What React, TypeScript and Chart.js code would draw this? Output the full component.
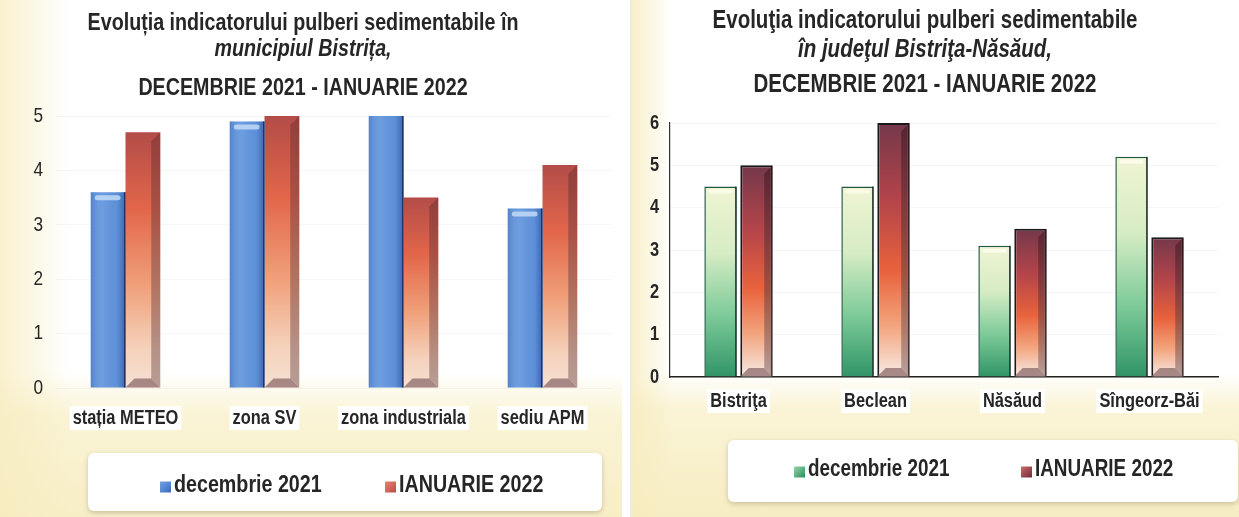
import React, { useEffect, useRef } from 'react';
import { Chart, registerables } from 'chart.js';

Chart.register(...registerables);

// ---------- data ----------
const seriesLabels = ['decembrie 2021', 'IANUARIE 2022'];

const leftCategories = ['stația METEO', 'zona SV', 'zona industriala', 'sediu APM'];
const leftDec2021 = [3.6, 4.9, 5.0, 3.3];
const leftJan2022 = [4.7, 5.0, 3.5, 4.1];
const leftTitle = [
  'Evoluția indicatorului pulberi sedimentabile în',
  'municipiul Bistrița,',
  'DECEMBRIE 2021 - IANUARIE 2022',
];
const leftYMax = 5;

const rightCategories = ['Bistriţa', 'Beclean', 'Năsăud', 'Sîngeorz-Băi'];
const rightDec2021 = [4.5, 4.5, 3.1, 5.2];
const rightJan2022 = [5.0, 6.0, 3.5, 3.3];
const rightTitle = [
  'Evoluţia indicatorului pulberi sedimentabile',
  'în judeţul Bistriţa-Năsăud,',
  'DECEMBRIE 2021 - IANUARIE 2022',
];
const rightYMax = 6;

// ---------- styles ----------
const FONT = "'Liberation Sans', Arial, sans-serif";
const TEXT = '#262626';
const NARROW = 0.82; // horizontal squeeze to imitate a narrow typeface

type Stop = [number, string];

const leftRedStops: Stop[] = [
  [0, '#b34c48'], [0.3, '#e2664a'], [0.6, '#f0a07a'], [0.85, '#f5d2bc'], [1, '#f6e0d2'],
];
const rightGreenStops: Stop[] = [
  [0, '#f0f4d4'], [0.35, '#d6ecc4'], [0.68, '#7cca98'], [1, '#309466'],
];
const rightRedStops: Stop[] = [
  [0, '#74384a'], [0.3, '#b3444a'], [0.58, '#e8623c'], [0.8, '#f3a57e'], [1, '#f7ebe6'],
];

function condense(ctx: any) {
  if (!ctx || ctx.__condensed) return;
  ctx.__condensed = true;
  const fill = ctx.fillText.bind(ctx);
  const measure = ctx.measureText.bind(ctx);
  ctx.fillText = (t: string, x: number, y: number) => {
    ctx.save();
    ctx.translate(x, y);
    ctx.scale(NARROW, 1);
    fill(t, 0, 0);
    ctx.restore();
  };
  ctx.measureText = (t: string) => {
    const r = measure(t);
    return {
      width: r.width * NARROW,
      actualBoundingBoxAscent: r.actualBoundingBoxAscent,
      actualBoundingBoxDescent: r.actualBoundingBoxDescent,
      actualBoundingBoxLeft: r.actualBoundingBoxLeft * NARROW,
      actualBoundingBoxRight: r.actualBoundingBoxRight * NARROW,
      fontBoundingBoxAscent: r.fontBoundingBoxAscent,
      fontBoundingBoxDescent: r.fontBoundingBoxDescent,
    };
  };
}

function vGrad(stops: Stop[]) {
  return (c: any) => {
    const chart = c.chart;
    if (!chart.chartArea || c.type !== 'data') return stops[Math.floor(stops.length / 2)][1];
    const y = chart.scales.y;
    const top = y.getPixelForValue(c.raw);
    const base = y.getPixelForValue(0);
    const g = chart.ctx.createLinearGradient(0, top, 0, base);
    stops.forEach(([o, col]) => g.addColorStop(o, col));
    return g;
  };
}

function titlePlugin(lines: string[], x: number, ys: number[], size: number, italicIdx: number) {
  return {
    id: 'panelTitle',
    afterDraw(chart: any) {
      const ctx = chart.ctx;
      ctx.save();
      ctx.fillStyle = TEXT;
      ctx.textAlign = 'center';
      ctx.textBaseline = 'middle';
      lines.forEach((t, i) => {
        ctx.font = `${i === italicIdx ? 'italic ' : ''}bold ${size}px ${FONT}`;
        ctx.fillText(t, x, ys[i]);
      });
      ctx.restore();
    },
  };
}

function legendPlugin(box: { x: number; y: number; w: number; h: number }, itemXs: number[], textY: number, markers: string[][], size: number) {
  return {
    id: 'boxLegend',
    afterDraw(chart: any) {
      const ctx = chart.ctx;
      ctx.save();
      ctx.shadowColor = 'rgba(120,110,80,0.35)';
      ctx.shadowBlur = 5;
      ctx.shadowOffsetY = 2;
      ctx.fillStyle = '#ffffff';
      ctx.beginPath();
      ctx.roundRect(box.x, box.y, box.w, box.h, 6);
      ctx.fill();
      ctx.shadowColor = 'transparent';
      chart.data.datasets.forEach((ds: any, i: number) => {
        const mx = itemXs[i];
        const ms = 11;
        const g = ctx.createLinearGradient(mx, textY - ms / 2, mx + ms, textY + ms / 2);
        g.addColorStop(0, markers[i][0]);
        g.addColorStop(1, markers[i][1]);
        ctx.fillStyle = g;
        ctx.fillRect(mx, textY - ms / 2 + 2, ms, ms);
        ctx.fillStyle = TEXT;
        ctx.font = `bold ${size}px ${FONT}`;
        ctx.textAlign = 'left';
        ctx.textBaseline = 'middle';
        ctx.fillText(ds.label, mx + ms + 3, textY);
      });
      ctx.restore();
    },
  };
}

// 3D-ish decorations on the bars (drawn from the library's own bar elements)
function bevelPlugin(kind: 'left' | 'right') {
  return {
    id: 'bevel',
    afterDatasetsDraw(chart: any) {
      const ctx = chart.ctx;
      ctx.save();
      chart.data.datasets.forEach((_ds: any, di: number) => {
        const meta = chart.getDatasetMeta(di);
        meta.data.forEach((el: any) => {
          const p = el.getProps(['x', 'y', 'base', 'width'], true);
          const l = p.x - p.width / 2;
          const r = p.x + p.width / 2;
          const top = Math.max(p.y, chart.chartArea.top);
          const base = p.base;
          if (di === 0) {
            if (kind === 'left') {
              const g = ctx.createLinearGradient(l, 0, r, 0);
              g.addColorStop(0, 'rgba(30,60,140,0.22)');
              g.addColorStop(0.35, 'rgba(255,255,255,0.08)');
              g.addColorStop(0.75, 'rgba(30,60,140,0.05)');
              g.addColorStop(1, 'rgba(20,40,110,0.45)');
              ctx.fillStyle = g;
              ctx.fillRect(l, top, r - l, base - top);
              ctx.fillStyle = 'rgba(20,30,70,0.7)';
              ctx.fillRect(r - 1.5, top, 1.5, base - top);
              if (p.y >= chart.chartArea.top + 2) {
                ctx.fillStyle = 'rgba(200,222,248,0.8)';
                ctx.beginPath();
                ctx.roundRect(l + 4, top + 3, r - l - 9, 5, 2.5);
                ctx.fill();
              }
            } else {
              ctx.fillStyle = 'rgba(255,255,240,0.7)';
              ctx.beginPath();
              ctx.roundRect(l + 4, top + 3, r - l - 8, 4, 2);
              ctx.fill();
              ctx.fillStyle = 'rgba(20,30,25,0.75)';
              ctx.fillRect(r - 1.5, top, 1.5, base - top);
            }
          } else {
            const s = Math.min(9, p.width * 0.26);
            const gr = ctx.createLinearGradient(0, top, 0, base);
            gr.addColorStop(0, kind === 'left' ? 'rgba(120,50,50,0.55)' : 'rgba(60,20,30,0.55)');
            gr.addColorStop(1, 'rgba(120,90,90,0.5)');
            ctx.fillStyle = gr;
            ctx.beginPath();
            ctx.moveTo(r, top);
            ctx.lineTo(r, base);
            ctx.lineTo(r - s, base - s);
            ctx.lineTo(r - s, top + s);
            ctx.closePath();
            ctx.fill();
            ctx.fillStyle = 'rgba(140,105,105,0.75)';
            ctx.beginPath();
            ctx.moveTo(l, base);
            ctx.lineTo(r, base);
            ctx.lineTo(r - s, base - s);
            ctx.lineTo(l + s, base - s);
            ctx.closePath();
            ctx.fill();
          }
        });
      });
      ctx.restore();
    },
  };
}

function ChartPanel({ config, style }: { config: any; style: React.CSSProperties }) {
  const ref = useRef<HTMLCanvasElement>(null);
  useEffect(() => {
    if (!ref.current) return;
    condense(ref.current.getContext('2d'));
    const chart = new Chart(ref.current, config);
    return () => chart.destroy();
  }, [config]);
  return (
    <div style={{ position: 'absolute', top: 0, height: 517, ...style }}>
      <canvas ref={ref} />
    </div>
  );
}

const xTicks = {
  color: TEXT,
  font: { family: FONT, size: 20, weight: 'bold' },
  maxRotation: 0,
  autoSkip: false,
  showLabelBackdrop: true,
  backdropColor: '#ffffff',
  backdropPadding: { top: 0, bottom: 0, left: 3, right: 3 },
};

const leftConfig = {
  type: 'bar',
  data: {
    labels: leftCategories,
    datasets: [
      { label: seriesLabels[0], data: leftDec2021, backgroundColor: '#6195dd', borderWidth: 0, categoryPercentage: 0.5, barPercentage: 1.0 },
      { label: seriesLabels[1], data: leftJan2022, backgroundColor: vGrad(leftRedStops), borderWidth: 0, categoryPercentage: 0.5, barPercentage: 1.0 },
    ],
  },
  options: {
    animation: false,
    responsive: true,
    maintainAspectRatio: false,
    layout: { padding: { top: 116, bottom: 77, left: 0, right: 10 } },
    plugins: { legend: { display: false }, tooltip: { enabled: false }, title: { display: false } },
    scales: {
      x: {
        grid: { display: false },
        border: { display: false },
        ticks: { ...xTicks, padding: 10 },
      },
      y: {
        min: 0,
        max: leftYMax,
        grid: { color: 'rgba(0,0,0,0.035)', drawTicks: false },
        border: { display: false },
        ticks: { stepSize: 1, color: TEXT, font: { family: FONT, size: 21 }, padding: 13 },
        afterFit: (s: any) => { s.width = 56; },
      },
    },
  },
  plugins: [
    bevelPlugin('left'),
    titlePlugin(leftTitle, 303, [23, 49, 88], 24, 1),
    legendPlugin({ x: 88, y: 453, w: 514, h: 58 }, [160, 385], 485, [['#7aa8e6', '#3d6fc0'], ['#e88a74', '#c0504d']], 24),
  ],
};

const rightConfig = {
  type: 'bar',
  data: {
    labels: rightCategories,
    datasets: [
      { label: seriesLabels[0], data: rightDec2021, backgroundColor: vGrad(rightGreenStops), borderColor: '#1f5a40', borderWidth: 1.5, categoryPercentage: 0.525, barPercentage: 0.9 },
      { label: seriesLabels[1], data: rightJan2022, backgroundColor: vGrad(rightRedStops), borderColor: '#1a1a1a', borderWidth: 2, categoryPercentage: 0.525, barPercentage: 0.9 },
    ],
  },
  options: {
    animation: false,
    responsive: true,
    maintainAspectRatio: false,
    layout: { padding: { top: 123, bottom: 100, left: 0, right: 23 } },
    plugins: { legend: { display: false }, tooltip: { enabled: false }, title: { display: false } },
    scales: {
      x: {
        grid: { display: false },
        border: { display: true, color: '#222', width: 1.5 },
        ticks: { ...xTicks, padding: 4 },
      },
      y: {
        min: 0,
        max: rightYMax,
        grid: { color: 'rgba(0,0,0,0.04)', drawTicks: false },
        border: { display: true, color: '#333', width: 1.2 },
        ticks: { stepSize: 1, color: TEXT, font: { family: FONT, size: 20, weight: 'bold' }, padding: 11 },
        afterFit: (s: any) => { s.width = 38; },
      },
    },
  },
  plugins: [
    bevelPlugin('right'),
    titlePlugin(rightTitle, 293, [21, 50, 85], 25, 1),
    legendPlugin({ x: 96, y: 440, w: 510, h: 62 }, [162, 389], 470, [['#9fdcb0', '#2f9464'], ['#d9706a', '#7a3040']], 23),
  ],
};

export default function App() {
  return (
    <div style={{ position: 'fixed', left: 0, top: 0, width: 1239, height: 517, background: '#ffffff', overflow: 'hidden' }}>
      <ChartPanel
        config={leftConfig}
        style={{
          left: 0,
          width: 622,
          background:
            'linear-gradient(90deg, rgba(247,236,190,0.75) 0px, rgba(255,255,255,0) 70px), linear-gradient(180deg, #ffffff 0%, #ffffff 72%, #faf4d6 80%, #f8eec6 100%)',
        }}
      />
      <ChartPanel
        config={rightConfig}
        style={{
          left: 630,
          width: 609,
          borderLeft: '2px solid #ecebe2',
          background:
            'linear-gradient(90deg, rgba(247,236,190,0.8) 0px, rgba(255,255,255,0) 40px), linear-gradient(180deg, #ffffff 0%, #ffffff 72%, #faf4d6 79%, #f7edc3 100%)',
        }}
      />
    </div>
  );
}
